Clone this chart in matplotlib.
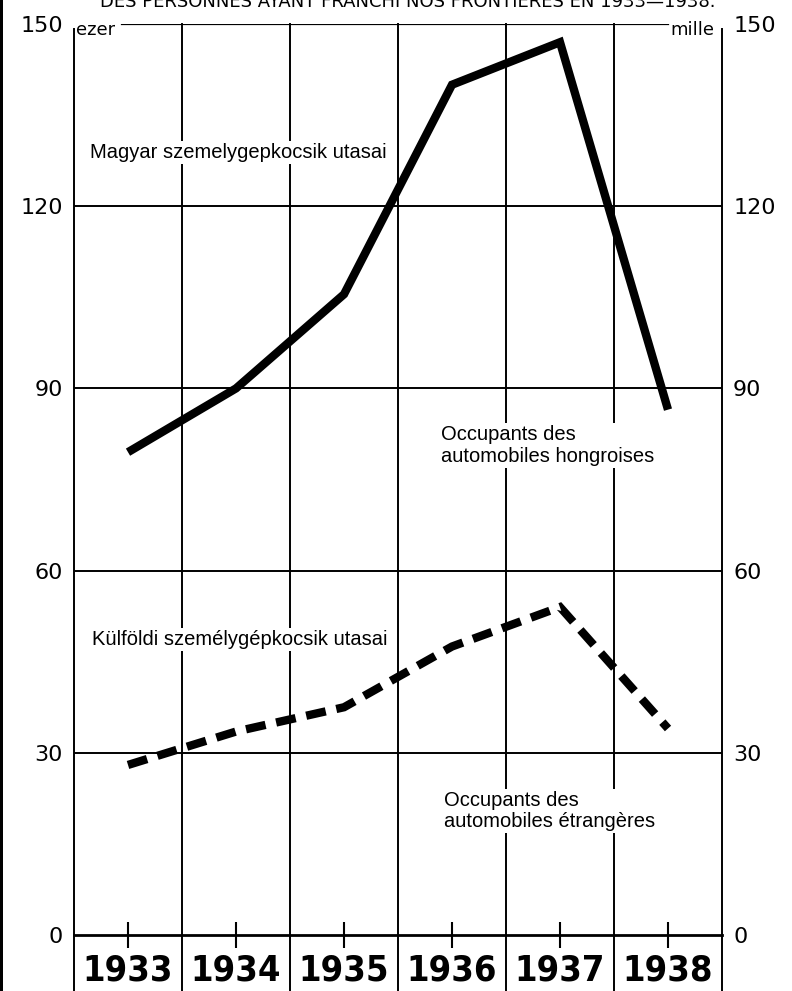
import matplotlib
matplotlib.use("Agg")
import matplotlib.pyplot as plt
from matplotlib.patches import Rectangle
from matplotlib import font_manager as fm

# ---- data ----
years = ["1933", "1934", "1935", "1936", "1937", "1938"]
hungarian = [79.5, 90, 105.5, 140, 147, 86.5]
foreign = [28, 33.5, 37.5, 47.5, 54, 34]
y_ticks = [0, 30, 60, 90, 120, 150]
y_tick_labels = ["0", "30", "60", "90", "120", "150"]
title = "DES PERSONNES AYANT FRANCHI NOS FRONTIÈRES EN 1933—1938."
label_hu_hu = "Magyar szemelygepkocsik utasai"
label_hu_fr = "Occupants des\nautomobiles hongroises"
label_fo_hu = "Külföldi személygépkocsik utasai"
label_fo_fr = "Occupants des\nautomobiles étrangères"
unit_left = "ezer"
unit_right = "mille"

# look for an installed condensed / narrow face
def find_condensed(bold):
    best = None
    for f in fm.fontManager.ttflist:
        narrow = ("Narrow" in f.name or "Condensed" in f.name or
                  "Condensed" in f.fname or "Narrow" in f.fname or
                  f.stretch in ("condensed", "semi-condensed", "extra-condensed"))
        if not narrow:
            continue
        w = f.weight if isinstance(f.weight, int) else (700 if "bold" in str(f.weight) else 400)
        if "Mono" in f.name or f.style != "normal":
            continue
        if bold and w >= 600:
            best = f.fname
            break
        if not bold and 350 <= w < 600:
            best = f.fname
            break
    return best

bold_cond = find_condensed(True)

if bold_cond:
    year_fp = fm.FontProperties(fname=bold_cond, size=26)
else:
    year_fp = fm.FontProperties(family="DejaVu Sans", weight="bold", size=21)

ANN = ["Liberation Sans", "DejaVu Sans"]
NUM = ["DejaVu Sans"]

W, H = 792, 991
fig = plt.figure(figsize=(W / 100, H / 100), dpi=100)
fig.patch.set_facecolor("white")
ax = fig.add_axes([74 / W, 56 / H, 648 / W, 911 / H])
ax.set_facecolor("white")

x = list(range(len(years)))
ax.set_xlim(-0.5, len(years) - 0.5)
ax.set_ylim(y_ticks[0], y_ticks[-1])

for s in ["left", "right", "top"]:
    ax.spines[s].set_visible(False)
ax.spines["bottom"].set_linewidth(2.0)

for v in y_ticks[1:-1]:
    ax.axhline(v, color="black", lw=1.4, zorder=1)
ax.axhline(y_ticks[-1], xmin=0.074, xmax=0.917, color="black", lw=1.6, zorder=1)

for i in range(len(years) + 1):
    b = i - 0.5
    ax.axvline(b, ymin=-0.0615, ymax=1.0 if 0 < i < len(years) else 0.995,
               color="black", lw=1.4, clip_on=False, zorder=1)

ax.plot(x, hungarian, color="black", lw=6.0, solid_capstyle="butt",
        solid_joinstyle="miter", zorder=3)
ax.plot(x, foreign, color="black", lw=6.0, dashes=(2.4, 1.3),
        dash_capstyle="butt", dash_joinstyle="miter", zorder=3)

ax.set_xticks(x)
ax.set_xticklabels(years, fontproperties=year_fp)
ax.tick_params(axis="x", direction="inout", length=19, width=1.5, pad=4,
               colors="black")
ax.set_yticks(y_ticks)
ax.set_yticklabels(y_tick_labels)
ax.tick_params(axis="y", length=0, pad=8, labelleft=True, labelright=True,
               labelsize=16)
for lab in ax.get_yticklabels() + ax.yaxis.get_ticklabels(which="both"):
    lab.set_family(NUM)

ax.text(0.003, 0.993, unit_left, transform=ax.transAxes, ha="left",
        va="center", family=NUM, fontsize=13)
ax.text(0.988, 0.993, unit_right, transform=ax.transAxes, ha="right",
        va="center", family=NUM, fontsize=13)

bb = dict(facecolor="white", edgecolor="none", pad=1.5)
ax.text(-0.35, 128.9, label_hu_hu, ha="left", va="center", family=ANN,
        fontsize=14.5, bbox=bb, zorder=2)
ax.text(2.90, 80.6, label_hu_fr, ha="left", va="center", family=ANN,
        fontsize=14.5, bbox=bb, zorder=2, linespacing=1.15)
ax.text(-0.33, 48.6, label_fo_hu, ha="left", va="center", family=ANN,
        fontsize=14.5, bbox=bb, zorder=2)
ax.text(2.93, 20.4, label_fo_fr, ha="left", va="center", family=ANN,
        fontsize=14.5, bbox=bb, zorder=2, linespacing=1.15)

fig.text(408 / W, 1 - 7 / H, title, ha="center", va="baseline",
         fontsize=13, family=NUM, color="black")

fig.add_artist(Rectangle((0, 0), 3 / W, 1, transform=fig.transFigure,
                         facecolor="black", edgecolor="none"))

fig.savefig("out.png", dpi=100, facecolor="white")
